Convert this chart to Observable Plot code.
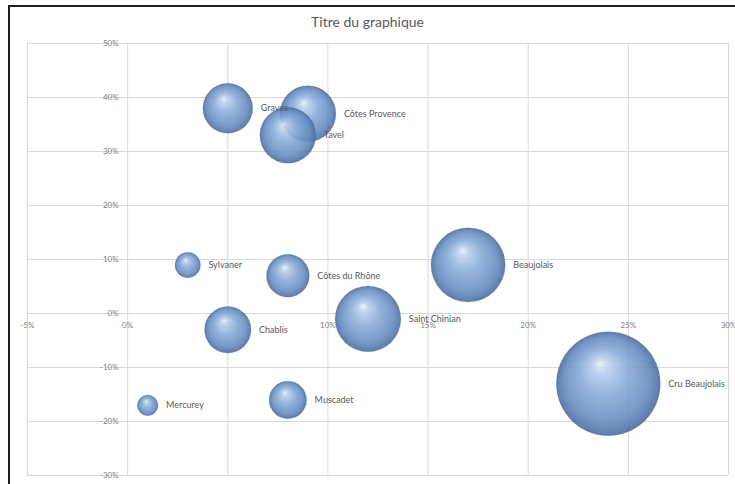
<!DOCTYPE html>
<html>
<head>
<meta charset="utf-8">
<script src="https://cdn.jsdelivr.net/npm/d3@7"></script>
<script src="https://cdn.jsdelivr.net/npm/@observablehq/plot@0.6"></script>
<style>
  html, body { margin: 0; padding: 0; background: #fff; }
  #wrap { position: relative; width: 735px; height: 484px; overflow: hidden; background: #fff; }
  #frame { position: absolute; left: 8px; top: 5px; right: -10px; bottom: -10px;
           border-left: 2px solid #1e1e1e; border-top: 2px solid #1e1e1e; pointer-events: none; }
  #title { height: 36px; width: 735px; text-align: center; font-family: Lato, "Open Sans", sans-serif;
           font-size: 14px; color: #595959; line-height: 16px; padding-top: 0; box-sizing: border-box; }
  #title span { display: inline-block; margin-top: 14px; }
</style>
</head>
<body>
<div id="wrap">
  <div id="title"><span>Titre du graphique</span></div>
  <div id="chart"></div>
  <div id="frame"></div>
</div>
<script>
const wines  = ["Graves", "Côtes Provence", "Tavel", "Sylvaner", "Côtes du Rhône", "Chablis",
                "Saint Chinian", "Beaujolais", "Cru Beaujolais", "Mercurey", "Muscadet"];
const xVals  = [0.05, 0.09, 0.08, 0.03, 0.08, 0.05, 0.12, 0.17, 0.24, 0.01, 0.08];
const yVals  = [0.38, 0.37, 0.33, 0.09, 0.07, -0.03, -0.01, 0.09, -0.13, -0.17, -0.16];
const sizes  = [23, 29, 29, 6, 17, 20, 40, 51, 100, 4, 13];
const xTicks = [-0.05, 0, 0.05, 0.10, 0.15, 0.20, 0.25, 0.30];
const yTicks = [-0.3, -0.2, -0.1, 0, 0.1, 0.2, 0.3, 0.4, 0.5];

const data = wines.map((name, i) => ({name, x: xVals[i], y: yVals[i], size: sizes[i]}));
const pct = v => `${Math.round(v * 100)}%`;

const chart = Plot.plot({
  width: 735,
  height: 448,
  marginLeft: 27,
  marginRight: 7,
  marginTop: 7,
  marginBottom: 9,
  style: {fontFamily: "Lato, 'Open Sans', sans-serif", background: "transparent"},
  x: {domain: [-0.05, 0.30], axis: null},
  y: {domain: [-0.3, 0.5], axis: null},
  r: {domain: [0, 100], range: [0, 52]},
  marks: [
    Plot.ruleX(xTicks, {x: d => d, y1: -0.3, y2: 0.5, stroke: "#d9d9d9", strokeWidth: 1}),
    Plot.ruleY(yTicks, {y: d => d, x1: -0.05, x2: 0.30, stroke: "#d9d9d9", strokeWidth: 1}),
    Plot.text(yTicks, {x: 0, y: d => d, text: pct, textAnchor: "end", dx: -9, fill: "#7f7f7f", fontSize: 8}),
    Plot.text(xTicks, {x: d => d, y: 0, text: pct, textAnchor: "middle", dy: 12, fill: "#7f7f7f", fontSize: 8}),
    Plot.dot(data, {x: "x", y: "y", r: "size", fill: "url(#sphere)", fillOpacity: 0.88,
                    stroke: "#4e6f9e", strokeOpacity: 0.35, strokeWidth: 0.6, sort: null}),
    Plot.text(data, {
      x: "x", y: "y", text: "name", textAnchor: "start", fill: "#595959", fontSize: 9,
      render(index, scales, values, dims, ctx, next) {
        const rs = scales.r || (v => 52 * Math.sqrt(v / 100));
        const X = Float64Array.from(values.x, (px, i) => px + rs(data[i].size) + 8);
        return next(index, scales, {...values, x: X}, dims, ctx);
      }
    })
  ]
});

// spherical shading gradient
const ns = "http://www.w3.org/2000/svg";
const defs = document.createElementNS(ns, "defs");
const grad = document.createElementNS(ns, "radialGradient");
grad.setAttribute("id", "sphere");
grad.setAttribute("cx", "0.5"); grad.setAttribute("cy", "0.5"); grad.setAttribute("r", "0.5");
grad.setAttribute("fx", "0.42"); grad.setAttribute("fy", "0.3");
[["0", "#e6effa"], ["0.14", "#b8cfeb"], ["0.45", "#86a9d7"], ["0.8", "#658bc0"], ["1", "#48699b"]]
  .forEach(([o, c]) => {
    const s = document.createElementNS(ns, "stop");
    s.setAttribute("offset", o); s.setAttribute("stop-color", c);
    grad.appendChild(s);
  });
defs.appendChild(grad);
chart.insertBefore(defs, chart.firstChild);

document.getElementById("chart").appendChild(chart);
</script>
</body>
</html>
